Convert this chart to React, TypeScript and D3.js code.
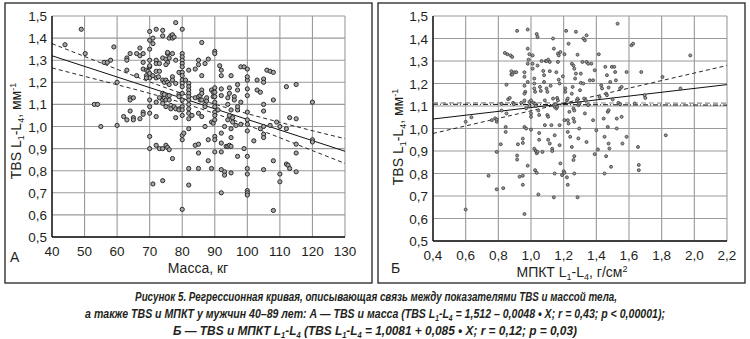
import React, { useLayoutEffect, useRef, useState } from "react";
import * as d3 from "d3";

// ---------- Panel A: TBS vs body mass ----------
const massPoints: [number, number][] = [
  [44,1.37],[49,1.44],[50.2,1.33],[53,1.10],[54,1.10],[55,1.00],[56,1.29],[57,1.29],[58,1.30],[59,1.36],
  [60,1.20],[60,1.005],[62,1.045],[63,1.03],[63,1.31],[63,1.30],[64,1.33],[63,1.255],[64,1.13],[64,1.12],
  [65,1.13],[64,1.07],[65,1.04],[65,1.03],[66,1.23],[66,1.33],[67,1.32],[67,1.355],[68,1.33],[67,1.035],
  [68,1.065],[68,1.055],[68,1.29],[68,1.26],[69,1.255],[69.5,1.25],[69,1.23],[70,1.22],[69,1.22],[70,1.24],
  [70,1.27],[70,1.275],[70,1.30],[70,1.35],[70,1.39],[70,1.43],[70,1.12],[70,1.09],[70,1.06],[70,0.955],
  [70,0.90],[71,0.74],[71,1.40],[71,1.375],[71,1.23],[72,1.22],[72,1.11],[72,1.045],[72,1.44],[72,1.30],
  [72,1.285],[73,1.285],[72,1.25],[73,1.25],[72.7,1.225],[72,0.915],[73,0.90],[74,0.90],[73,1.13],[74,1.12],
  [74,1.105],[74.5,1.13],[75,1.12],[75,1.09],[74,1.435],[74,1.21],[74.5,1.20],[74,1.15],[74.5,1.145],[74,0.755],
  [74,1.41],[74,1.31],[75,1.305],[75.5,1.33],[75.5,1.335],[75.5,1.29],[75,1.28],[75,1.21],[75.5,1.20],[76,1.19],
  [75,0.915],[75.5,0.905],[76,0.895],[76,1.40],[76.5,1.41],[77,1.415],[77,1.40],[77.5,1.405],[76,1.31],[77,1.33],
  [76,1.14],[76,1.12],[76.5,1.095],[76.5,1.08],[77,0.855],[77,1.225],[77,1.21],[77.5,1.09],[78,1.08],[78,1.47],
  [78,1.30],[78,1.195],[78,1.04],[79,1.145],[79,1.135],[79,1.08],[79,1.075],[79,1.245],[80,1.44],[80,1.33],
  [80,1.315],[80,1.30],[80,1.285],[80,1.27],[80,1.245],[80,1.23],[80,1.21],[80,1.195],[80,1.18],[80,1.15],
  [80,1.12],[80,1.09],[80,1.075],[80,1.05],[80,0.96],[80,0.94],[80.5,0.97],[80,0.625],[81,1.21],[82,1.255],
  [82,1.195],[82,1.18],[82,1.165],[82,1.15],[82,1.135],[82,1.12],[82,1.10],[82,1.08],[82,1.06],[82,1.035],
  [82,0.99],[82,0.81],[82,0.735],[83,1.05],[84,1.13],[85,1.135],[85.5,1.14],[85.5,1.12],[86,1.12],[84,1.26],
  [84,0.915],[85,1.06],[86,1.045],[85,1.30],[85,1.28],[85,0.92],[85,0.88],[85,0.81],[86,1.38],[86,1.23],
  [86,1.165],[86,1.15],[87,1.10],[87,1.09],[87,1.00],[87,1.285],[87.5,1.13],[87.5,1.115],[88,1.305],[88,0.94],
  [88,0.845],[89,0.81],[89,1.165],[89.5,1.155],[89.5,1.135],[89,1.02],[89.5,1.015],[90,1.34],[90,1.33],[90,1.175],
  [90,1.155],[90,1.135],[90,1.11],[90,1.09],[90,1.065],[90,1.05],[90,1.03],[90,0.955],[90,0.94],[90,0.885],
  [91,1.075],[91.5,1.275],[92,1.255],[92,1.23],[92,1.17],[92,1.14],[92,0.97],[92,0.925],[92,0.885],[92,0.805],
  [92,0.70],[93,0.795],[93,0.78],[93,1.00],[93.5,0.91],[94,0.91],[94.5,0.915],[94,1.03],[94,1.13],[94,1.10],
  [94.5,1.175],[94.5,1.15],[95,1.23],[95,0.95],[95,1.075],[94.5,1.05],[95,0.79],[95,0.99],[95,0.91],[95.5,1.04],
  [95.5,1.02],[96,1.135],[96,1.12],[96.5,1.005],[97,1.075],[97,1.09],[97,0.865],[97,1.19],[97,1.165],[98,1.11],
  [98,1.27],[99,1.27],[98,1.01],[99,0.90],[100,1.21],[100,1.225],[100,1.17],[100,1.14],[100,1.065],[100,1.03],
  [100,1.01],[100,0.98],[100,0.865],[100,0.81],[100,0.785],[100,0.71],[100,0.70],[100,0.69],[100,1.26],[102,0.935],
  [103,1.21],[103,1.165],[104,1.155],[104,0.99],[105,1.215],[105,1.20],[105,1.10],[105,1.07],[105,1.00],[105,0.965],
  [105,0.95],[105,0.805],[106,1.255],[107,1.25],[108,1.245],[107,1.005],[108,1.12],[108,0.845],[108,0.62],[109,1.02],
  [110,1.00],[110,0.785],[110,0.75],[112,1.18],[112,0.99],[112,0.83],[112.5,0.825],[113,1.04],[113,0.81],[115,1.19],
  [115,1.035],[115,0.92],[115,0.88],[115,0.795],[120,1.11],[120,0.94],[120,0.93]
];
const massTicks = [40, 50, 60, 70, 80, 90, 100, 110, 120, 130];
const tbsTicks = [0.5, 0.6, 0.7, 0.8, 0.9, 1.0, 1.1, 1.2, 1.3, 1.4, 1.5];
// regression line A: TBS = 1.512 - 0.0048*X
const regA = { a: 1.512, b: -0.0048 };
const bandAx = [40, 50, 60, 70, 80, 90, 100, 110, 120, 130];
const bandAupper = [1.375, 1.317, 1.259, 1.202, 1.149, 1.101, 1.058, 1.019, 0.981, 0.945];
const bandAlower = [1.265, 1.227, 1.189, 1.150, 1.107, 1.059, 1.006, 0.949, 0.891, 0.833];

// ---------- Panel B: TBS vs BMD ----------
const bmdPoints: [number, number][] = [
  [0.60,0.64],[0.60,1.03],[0.635,1.05],[0.74,0.79],[0.76,1.037],[0.78,1.045],[0.79,1.03],[0.79,1.04],[0.79,0.896],[0.79,0.73],
  [0.815,0.93],[0.82,1.08],[0.82,1.11],[0.83,0.735],[0.84,1.336],[0.855,1.33],[0.85,1.195],[0.845,1.007],[0.845,0.985],[0.85,1.067],
  [0.86,1.13],[0.87,1.136],[0.875,1.325],[0.885,1.318],[0.88,1.24],[0.885,1.24],[0.88,1.255],[0.89,1.114],[0.895,1.108],[0.90,1.25],
  [0.91,1.25],[0.915,1.434],[0.915,0.88],[0.915,0.862],[0.92,0.93],[0.93,0.786],[0.94,1.114],[0.95,0.75],[0.95,0.79],[0.95,0.955],
  [0.95,0.936],[0.96,1.25],[0.96,1.23],[0.96,1.19],[0.965,1.163],[0.96,1.155],[0.96,0.62],[0.96,1.125],[0.97,1.09],[0.96,1.007],
  [0.97,1.0],[0.98,0.835],[0.98,1.288],[0.985,1.306],[0.98,1.355],[0.99,1.33],[0.98,1.44],[0.98,1.207],[0.99,1.118],[0.99,1.10],
  [1.0,0.995],[1.0,1.125],[1.0,1.067],[1.0,1.052],[1.01,1.266],[1.01,1.288],[1.01,1.325],[1.02,1.222],[1.02,1.2],[1.02,1.178],
  [1.025,1.163],[1.015,1.114],[1.025,1.11],[1.03,1.1],[1.02,0.91],[1.03,0.9],[1.035,0.89],[1.04,0.896],[1.025,0.815],[1.035,0.803],
  [1.035,1.42],[1.04,1.407],[1.04,1.28],[1.045,0.707],[1.045,1.08],[1.05,1.06],[1.05,0.98],[1.05,0.95],[1.055,1.185],[1.06,1.167],
  [1.065,1.3],[1.07,0.896],[1.075,1.256],[1.08,1.237],[1.08,1.207],[1.085,1.125],[1.085,1.015],[1.09,1.3],[1.095,1.3],[1.105,1.306],
  [1.115,1.296],[1.095,1.178],[1.1,1.163],[1.1,1.06],[1.105,1.052],[1.105,0.95],[1.115,0.933],[1.115,1.255],[1.12,1.19],[1.125,1.015],
  [1.13,0.91],[1.13,0.9],[1.135,1.4],[1.135,1.133],[1.14,1.104],[1.145,1.096],[1.14,0.694],[1.14,1.355],[1.145,0.8],[1.145,0.97],
  [1.15,1.107],[1.155,1.089],[1.16,1.096],[1.155,1.25],[1.16,1.136],[1.165,1.125],[1.165,1.333],[1.17,1.325],[1.17,1.217],[1.175,1.2],
  [1.165,1.296],[1.18,1.34],[1.175,1.015],[1.175,0.926],[1.18,0.845],[1.19,0.793],[1.195,1.232],[1.2,0.81],[1.205,0.803],[1.205,1.33],
  [1.205,1.037],[1.21,1.178],[1.21,1.163],[1.215,1.434],[1.22,0.783],[1.22,1.125],[1.225,1.133],[1.225,1.037],[1.23,1.022],[1.225,0.985],
  [1.225,0.75],[1.23,1.377],[1.235,1.074],[1.24,0.963],[1.25,0.918],[1.25,1.155],[1.255,1.185],[1.25,1.288],[1.26,1.28],[1.265,1.266],
  [1.26,1.089],[1.265,1.08],[1.26,1.044],[1.265,1.03],[1.26,0.86],[1.265,0.877],[1.265,0.8],[1.27,1.222],[1.275,1.244],[1.275,1.43],
  [1.28,1.125],[1.285,1.133],[1.29,1.104],[1.295,1.111],[1.285,1.328],[1.285,0.694],[1.29,0.956],[1.295,1.0],[1.3,1.17],[1.305,1.203],
  [1.305,1.244],[1.315,1.296],[1.32,1.4],[1.33,1.392],[1.34,1.414],[1.32,1.2],[1.325,1.133],[1.335,1.125],[1.33,1.067],[1.34,1.296],
  [1.35,1.288],[1.34,0.94],[1.35,1.104],[1.36,1.214],[1.37,1.288],[1.38,1.037],[1.38,1.214],[1.39,0.886],[1.39,1.259],[1.4,0.992],
  [1.41,0.907],[1.415,1.33],[1.42,1.14],[1.43,1.192],[1.435,1.178],[1.445,1.044],[1.45,0.963],[1.455,1.274],[1.45,0.8],[1.46,1.155],
  [1.465,1.148],[1.46,0.877],[1.465,1.237],[1.47,1.074],[1.475,1.081],[1.47,1.007],[1.475,1.182],[1.475,0.933],[1.48,0.911],[1.485,1.207],
  [1.49,0.83],[1.495,1.274],[1.51,1.274],[1.5,1.129],[1.515,1.251],[1.52,1.214],[1.525,1.044],[1.525,1.0],[1.53,1.466],[1.535,1.114],
  [1.545,1.108],[1.545,1.178],[1.555,1.185],[1.555,1.052],[1.56,0.933],[1.585,1.251],[1.585,0.963],[1.615,1.37],[1.625,1.377],[1.635,1.111],
  [1.655,0.918],[1.66,0.838],[1.66,0.815],[1.675,1.251],[1.695,1.148],[1.70,1.136],[1.805,1.229],[1.825,0.97],[1.915,1.178],[1.975,1.325]
];
const bmdTicks = [0.4, 0.6, 0.8, 1.0, 1.2, 1.4, 1.6, 1.8, 2.0, 2.2];
// regression line B: TBS = 1.0081 + 0.085*X
const regB = { a: 1.0081, b: 0.085 };
const bandBx = [0.4, 2.2];
const bandBsteep = [0.978, 1.28];
const bandBflat = [1.108, 1.104];
const bandBgray = [1.114, 1.113];

// caption line target widths / baselines
const captionWidths = [482, 580, 404];
const captionBaselines = [301, 318, 335];

const fmt = (v: number, d: number) => v.toFixed(d).replace(".", ",");

const FONT = "'Liberation Sans', Arial, sans-serif";
const TXT = "#231f20";
const GRID = "#9a9a9a";
const TICK_FS = 13.5;
const TITLE_FS = 14;

function Panel(props: {
  x: d3.ScaleLinear<number, number>;
  y: d3.ScaleLinear<number, number>;
  xTicks: number[];
  xDec: number;
  tickLabelRight: number;
  xTickBaseline: number;
}) {
  const { x, y, xTicks, xDec, tickLabelRight, xTickBaseline } = props;
  const [x0, x1] = x.range();
  const [y0, y1] = y.range();
  return (
    <g>
      {xTicks.map((t) => (
        <line key={"gx" + t} x1={x(t)} x2={x(t)} y1={y0} y2={y1} stroke={GRID} strokeWidth={1.1} />
      ))}
      {tbsTicks.map((t) => (
        <line key={"gy" + t} x1={x0} x2={x1} y1={y(t)} y2={y(t)} stroke={GRID} strokeWidth={1.1} />
      ))}
      <line x1={x0} x2={x0} y1={y0} y2={y1} stroke="#111" strokeWidth={1.4} />
      <line x1={x0} x2={x1} y1={y0} y2={y0} stroke="#111" strokeWidth={1.4} />
      {tbsTicks.map((t) => (
        <text key={"ly" + t} x={tickLabelRight} y={y(t) + 5} textAnchor="end" fontFamily={FONT} fontSize={TICK_FS} fill={TXT}>
          {fmt(t, 1)}
        </text>
      ))}
      {xTicks.map((t) => (
        <text key={"lx" + t} x={x(t)} y={xTickBaseline} textAnchor="middle" fontFamily={FONT} fontSize={TICK_FS} fill={TXT}>
          {fmt(t, xDec)}
        </text>
      ))}
    </g>
  );
}

function YTitle({ cx, cy }: { cx: number; cy: number }) {
  return (
    <text transform={`translate(${cx},${cy}) rotate(-90)`} textAnchor="middle" fontFamily={FONT} fontSize={TITLE_FS} fill={TXT} dy={5}>
      TBS L<tspan fontSize={9} dy={3}>1</tspan>
      <tspan dy={-3}>-L</tspan>
      <tspan fontSize={9} dy={3}>4</tspan>
      <tspan dy={-3}>, мм</tspan>
      <tspan fontSize={9} dy={-5}>-1</tspan>
    </text>
  );
}

export default function App() {
  const xA = d3.scaleLinear().domain([40, 130]).range([52, 345]);
  const yA = d3.scaleLinear().domain([0.5, 1.5]).range([237, 16]);
  const xB = d3.scaleLinear().domain([0.4, 2.2]).range([433, 727]);
  const yB = d3.scaleLinear().domain([0.5, 1.5]).range([241, 16]);

  const lineA = d3.line<[number, number]>().x((d) => xA(d[0])).y((d) => yA(d[1])).curve(d3.curveMonotoneX);
  const lineB = d3.line<[number, number]>().x((d) => xB(d[0])).y((d) => yB(d[1]));

  const regAPts: [number, number][] = [40, 130].map((v) => [v, regA.a + regA.b * v]);
  const regBPts: [number, number][] = [0.4, 2.2].map((v) => [v, regB.a + regB.b * v]);
  const upA = bandAx.map((v, i) => [v, bandAupper[i]] as [number, number]);
  const loA = bandAx.map((v, i) => [v, bandAlower[i]] as [number, number]);
  const steepB = bandBx.map((v, i) => [v, bandBsteep[i]] as [number, number]);
  const flatB = bandBx.map((v, i) => [v, bandBflat[i]] as [number, number]);
  const grayB = bandBx.map((v, i) => [v, bandBgray[i]] as [number, number]);

  const capFont = "'Liberation Sans', Arial, sans-serif";
  const SUB = 8.5;

  const capRefs = [useRef<SVGTextElement>(null), useRef<SVGTextElement>(null), useRef<SVGTextElement>(null)];
  const [capScale, setCapScale] = useState<number[]>([0.75, 0.75, 0.75]);
  useLayoutEffect(() => {
    const s = capRefs.map((r, i) => {
      const el = r.current;
      if (!el) return 0.75;
      const w = el.getComputedTextLength();
      return w > 0 ? captionWidths[i] / w : 0.75;
    });
    setCapScale(s);
  }, []);

  const sub = (s: string) => (
    <tspan fontSize={SUB} dy={2.5}>{s}</tspan>
  );

  return (
    <svg width={750} height={339} style={{ position: "absolute", left: 0, top: 0, background: "#fff" }}>
      <rect x={0} y={0} width={750} height={339} fill="#fff" />
      {/* Panel A */}
      <rect x={5} y={3} width={367} height={280} fill="none" stroke="#222" strokeWidth={1.3} />
      <Panel x={xA} y={yA} xTicks={massTicks} xDec={0} tickLabelRight={47} xTickBaseline={256} />
      <path d={lineA(regAPts) || ""} fill="none" stroke="#111" strokeWidth={1} />
      <path d={lineA(upA) || ""} fill="none" stroke="#111" strokeWidth={0.9} strokeDasharray="4,3" />
      <path d={lineA(loA) || ""} fill="none" stroke="#111" strokeWidth={0.9} strokeDasharray="4,3" />
      {massPoints.map((p, i) => (
        <circle key={"a" + i} cx={xA(p[0])} cy={yA(p[1])} r={2.1} fill="#a8a8a8" stroke="#2a2a2a" strokeWidth={1} />
      ))}
      <YTitle cx={16} cy={131} />
      <text x={198} y={273} textAnchor="middle" fontFamily={FONT} fontSize={TITLE_FS} fill={TXT}>Масса, кг</text>
      <text x={10} y={262} fontFamily={FONT} fontSize={TITLE_FS} fill={TXT}>А</text>

      {/* Panel B */}
      <rect x={378} y={3} width={367} height={280} fill="none" stroke="#222" strokeWidth={1.3} />
      <Panel x={xB} y={yB} xTicks={bmdTicks} xDec={1} tickLabelRight={428} xTickBaseline={260} />
      <path d={lineB(grayB) || ""} fill="none" stroke="#8a8a8a" strokeWidth={1.2} strokeDasharray="5,3" />
      <path d={lineB(flatB) || ""} fill="none" stroke="#111" strokeWidth={1} strokeDasharray="5,2,1,2" />
      <path d={lineB(steepB) || ""} fill="none" stroke="#111" strokeWidth={0.9} strokeDasharray="4,3" />
      <path d={lineB(regBPts) || ""} fill="none" stroke="#111" strokeWidth={1} />
      {bmdPoints.map((p, i) => (
        <circle key={"b" + i} cx={xB(p[0])} cy={yB(p[1])} r={1.5} fill="#9a9a9a" stroke="#3a3a3a" strokeWidth={0.8} />
      ))}
      <YTitle cx={398} cy={137} />
      <text x={572} y={277} textAnchor="middle" fontFamily={FONT} fontSize={TITLE_FS} fill={TXT}>
        МПКТ L<tspan fontSize={9} dy={3}>1</tspan>
        <tspan dy={-3}>-L</tspan>
        <tspan fontSize={9} dy={3}>4</tspan>
        <tspan dy={-3}>, г/см</tspan>
        <tspan fontSize={9} dy={-5}>2</tspan>
      </text>
      <text x={391} y={273} fontFamily={FONT} fontSize={TITLE_FS} fill={TXT}>Б</text>

      {/* Caption */}
      <g fontFamily={capFont} fontWeight="bold" fontStyle="italic" fontSize={13.5} fill={TXT}>
        <g transform={`translate(376,${captionBaselines[0]}) scale(${capScale[0]},1)`}>
          <text ref={capRefs[0]} x={0} y={0} textAnchor="middle">
            Рисунок 5. Регрессионная кривая, описывающая связь между показателями TBS и массой тела,
          </text>
        </g>
        <g transform={`translate(375,${captionBaselines[1]}) scale(${capScale[1]},1)`}>
          <text ref={capRefs[1]} x={0} y={0} textAnchor="middle">
            а также TBS и МПКТ у мужчин 40–89 лет: А — TBS и масса (TBS L{sub("1")}
            <tspan dy={-2.5}>-L</tspan>{sub("4")}
            <tspan dy={-2.5}> = 1,512 – 0,0048 • X; r = 0,43; p {"<"} 0,00001);</tspan>
          </text>
        </g>
        <g transform={`translate(375,${captionBaselines[2]}) scale(${capScale[2]},1)`}>
          <text ref={capRefs[2]} x={0} y={0} textAnchor="middle">
            Б — TBS и МПКТ L{sub("1")}
            <tspan dy={-2.5}>-L</tspan>{sub("4")}
            <tspan dy={-2.5}> (TBS L</tspan>{sub("1")}
            <tspan dy={-2.5}>-L</tspan>{sub("4")}
            <tspan dy={-2.5}> = 1,0081 + 0,085 • X; r = 0,12; p = 0,03)</tspan>
          </text>
        </g>
      </g>
    </svg>
  );
}
